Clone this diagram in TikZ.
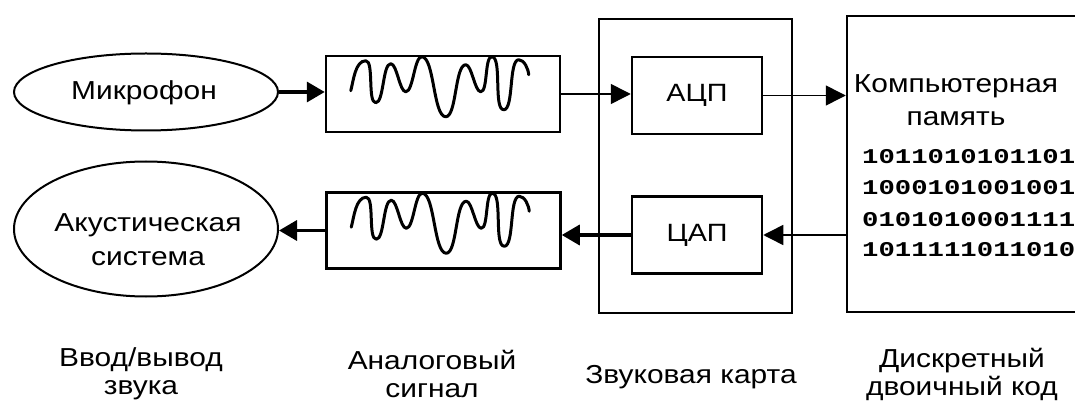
\documentclass[tikz,border=0pt]{standalone}
\usepackage{fontspec}
\setmainfont{Liberation Sans}[FakeStretch=1.15]
\newfontfamily\binfont{Liberation Mono}[FakeStretch=1.3]
\usetikzlibrary{shapes.geometric,arrows.meta}
\tikzset{
  lbl/.style={font=\fontsize{26}{28}\selectfont, align=center, inner sep=0pt},
  ovalbox/.style={draw, ellipse, line width=2pt, inner sep=0pt},
  sigbox/.style={draw, rectangle, line width=2.5pt, inner sep=0pt, minimum width=234pt, minimum height=76pt},
  convbox/.style={draw, rectangle, line width=2.5pt, inner sep=0pt, minimum width=130pt, minimum height=77pt, font=\fontsize{25}{28}\selectfont},
  thinarr/.style={line width=1.5pt, -{Triangle[length=20pt,width=20pt]}},
  thickarr/.style={line width=3.5pt, -{Triangle[length=18pt,width=20pt]}},
  wave/.style={line width=3pt, line join=round, line cap=round, looseness=0.5},
  bin/.style={font=\binfont\bfseries\fontsize{21}{24}\selectfont, anchor=west, inner sep=0pt},
}
\begin{document}
\begin{tikzpicture}[x=1pt,y=-1pt]
\useasboundingbox (0,0) rectangle (1075,403);
\clip (0,0) rectangle (1075,403);
% left column
\node[ovalbox, minimum width=264pt, minimum height=77pt] (mic) at (146,92) {};
\node[lbl] (mict) at (144,93) {Микрофон};
\node[ovalbox, minimum width=264pt, minimum height=135pt] (spk) at (146,229) {};
\node[lbl, font=\fontsize{26}{34}\selectfont] (spkt) at (148,240) {Акустическая\\система};
% signal boxes
\node[sigbox] (sig1) at (443,94) {};
\node[sigbox] (sig2) at (443.5,230.5) {};
\foreach \b in {sig1,sig2}{
  \draw[wave, shift={(\b.north west)}]
    (26,36) to[out=75,in=180,looseness=0.8] (41,6) to[out=0,in=180] (51,48)
    to[out=0,in=180] (66,9) to[out=0,in=180] (81,37)
    to[out=0,in=180] (97,2) to[out=0,in=180] (121,62)
    to[out=0,in=180] (141,10) to[out=0,in=180] (156,37)
    to[out=0,in=180] (167,2) to[out=0,in=180] (179,55)
    to[out=0,in=180] (194,5) to[out=0,in=95,looseness=0.8] (204,20);
}
% sound card
\node[draw, rectangle, line width=2.5pt, minimum width=193pt, minimum height=294pt, inner sep=0pt] (card) at (695.5,166) {};
\node[convbox] (adc) at (697,95.5) {АЦП};
\node[convbox] (dac) at (697,235) {ЦАП};
% memory
\node[draw, rectangle, line width=2.5pt, minimum width=260pt, minimum height=296pt, inner sep=0pt] (mem) at (977,164) {};
\node[lbl, font=\fontsize{26}{33}\selectfont] (memt) at (956,100) {Компьютерная\\\hspace*{0pt}память};
\node[bin] (b1) at (862,157) {1011010101101};
\node[bin] (b2) at (862,188) {1000101001001};
\node[bin] (b3) at (862,220) {0101010001111};
\node[bin] (b4) at (862,250) {1011111011010};
% connectors
\draw[thickarr] (mic.east) -- (mic.east -| sig1.west);
\draw[thinarr] (sig1.east) -- (sig1.east -| adc.west);
\draw[thinarr] (adc.east) -- (adc.east -| mem.west);
\draw[thinarr] (dac.east -| mem.west) -- (dac.east);
\draw[thickarr] (dac.west) -- (dac.west -| sig2.east);
\draw[thickarr] (sig2.west) -- (sig2.west -| spk.east);
% bottom labels
\node[lbl] (l1) at (141,374) {Ввод/вывод\\звука};
\node[lbl] (l2) at (432,374) {Аналоговый\\сигнал};
\node[lbl] (l3) at (691,377) {Звуковая карта};
\node[lbl] (l4) at (962,374) {Дискретный\\двоичный код};
\end{tikzpicture}
\end{document}
